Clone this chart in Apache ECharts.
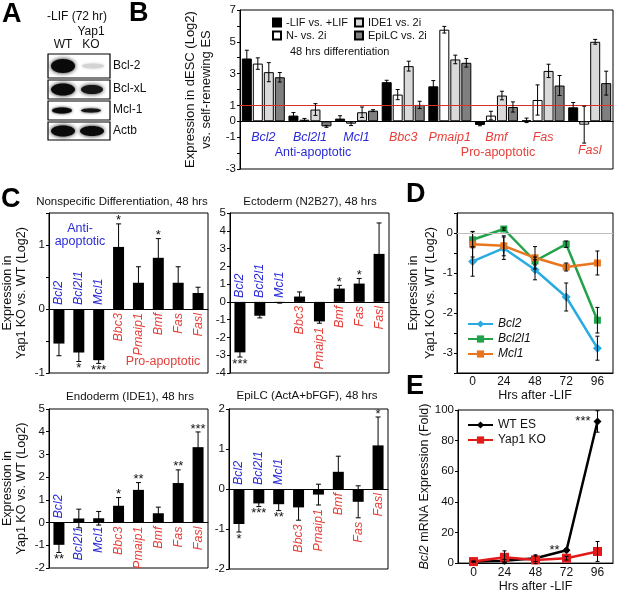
<!DOCTYPE html>
<html>
<head>
<meta charset="utf-8">
<script src="https://cdn.jsdelivr.net/npm/echarts@6/dist/echarts.min.js"></script>
<style>
  html, body { margin: 0; padding: 0; background: #fff; }
  #chart { width: 617px; height: 594px; }
</style>
</head>
<body>
<div id="chart"></div>
<script>
// genes, first three are anti-apoptotic
const genes = ['Bcl2', 'Bcl2l1', 'Mcl1', 'Bbc3', 'Pmaip1', 'Bmf', 'Fas', 'Fasl'];
const antiCount = 3;

// panel B: dESC vs self-renewing ES
const bNames = ['-LIF vs. +LIF', 'N- vs. 2i', 'IDE1 vs. 2i', 'EpiLC vs. 2i'];
const bLif = [3.95, 0.36, 0.17, 2.46, 2.2, -0.23, 0.06, 0.88];
const bLifErr = [0.52, 0.19, 0.18, 0.12, 0.36, 0.05, 0.14, 0.3];
const bN2 = [3.63, 0.1, -0.15, 1.68, 5.76, 0.36, 1.34, -0.21];
const bN2Err = [0.36, 0.08, 0.12, 0.32, 0.21, 0.27, 0.95, 1.16];
const bIde = [3.09, 0.74, 0.57, 3.47, 3.89, 1.62, 3.17, 5.0];
const bIdeErr = [0.6, 0.37, 0.33, 0.31, 0.27, 0.27, 0.42, 0.15];
const bEpi = [2.77, -0.32, 0.67, 1.03, 3.68, 0.9, 2.25, 2.4];
const bEpiErr = [0.3, 0.06, 0.06, 0.23, 0.27, 0.32, 0.63, 0.75];

// panel C: Yap1 KO vs WT
const cNon = [-0.54, -0.68, -0.8, 0.97, 0.41, 0.8, 0.41, 0.25];
const cNonErr = [0.19, 0.14, 0.05, 0.36, 0.25, 0.3, 0.25, 0.09];
const cNonSig = ['', '*', '***', '*', '', '*', '', ''];
const cEcto = [-2.84, -0.78, -0.05, 0.3, -1.1, 0.75, 1.03, 2.7];
const cEctoErr = [0.26, 0.12, 0.02, 0.26, 0.1, 0.18, 0.29, 1.74];
const cEctoSig = ['***', '', '', '', '', '*', '*', ''];
const cEndo = [-0.98, 0.18, 0.19, 0.74, 1.44, 0.41, 1.74, 3.32];
const cEndoErr = [0.34, 0.41, 0.3, 0.36, 0.32, 0.27, 0.58, 0.67];
const cEndoSig = ['**', '', '', '*', '**', '', '**', '***'];
const cEpi = [-0.875, -0.36, -0.38, -0.46, -0.14, 0.43, -0.32, 1.09];
const cEpiErr = [0.2, 0.08, 0.16, 0.32, 0.26, 0.39, 0.4, 0.71];
const cEpiSig = ['*', '***', '**', '', '', '', '', '*'];

// panel D: time course, Yap1 KO vs WT (Log2)
const hours = ['0', '24', '48', '72', '96'];
const dBcl2 = [-0.71, -0.38, -0.92, -1.6, -2.88];
const dBcl2Err = [0.37, 0.28, 0.25, 0.35, 0.3];
const dBcl2l1 = [-0.17, 0.1, -0.7, -0.28, -2.18];
const dBcl2l1Err = [0.2, 0.03, 0.1, 0.08, 0.32];
const dMcl1 = [-0.28, -0.32, -0.62, -0.85, -0.75];
const dMcl1Err = [0.32, 0.25, 0.28, 0.1, 0.3];

// panel E: Bcl2 mRNA fold
const eWt = [1, 1.5, 3.2, 8.4, 92.5];
const eWtErr = [0.3, 0.8, 2.2, 1, 7];
const eKo = [1, 3.8, 2.1, 3.2, 7.6];
const eKoErr = [0.3, 4.2, 2.5, 1.2, 6.5];
const eSig = ['', '', '', '**', '***'];

const FONT = "'Liberation Sans', Arial, sans-serif";
const BLUE = '#2b2bd6';
const RED = '#e5403a';

const chart = echarts.init(document.getElementById('chart'));

const grids = [
    { left: 240, top: 10, width: 373, height: 159 },  // B
    { left: 48, top: 213, width: 160, height: 160 },  // C nonspecific
    { left: 230, top: 213, width: 159, height: 160 }, // C ectoderm
    { left: 48, top: 409, width: 160, height: 159 },  // C endoderm
    { left: 229, top: 409, width: 159, height: 160 }, // C epiLC
    { left: 457, top: 213, width: 156, height: 160 }, // D
    { left: 458, top: 410, width: 155, height: 158 }  // E
].map(g => Object.assign({ show: true, borderColor: '#000', borderWidth: 1 }, g));

function valAxis(gi, min, max, interval, showFn, extra) {
    return Object.assign({
        type: 'value', gridIndex: gi, min: min, max: max, interval: interval,
        axisLine: { show: true, lineStyle: { color: '#000' } },
        axisTick: { show: true, length: 3, lineStyle: { color: '#000' } },
        axisLabel: {
            fontSize: 11.5, color: '#111', fontFamily: FONT, margin: 4,
            formatter: v => showFn(v) ? String(v) : ''
        },
        splitLine: { show: false }
    }, extra || {});
}

function geneAxis(gi) {
    return {
        type: 'category', gridIndex: gi, data: genes,
        axisLine: { onZero: true, lineStyle: { color: '#000' } },
        axisTick: { show: false }, axisLabel: { show: false }
    };
}

function timeAxis(gi, margin, nameGap) {
    return {
        type: 'category', gridIndex: gi, data: hours,
        axisLine: { onZero: false, lineStyle: { color: '#000' } },
        axisTick: { length: 4, lineStyle: { color: '#000' } },
        axisLabel: { fontSize: 12, color: '#111', fontFamily: FONT, margin: margin },
        name: 'Hrs after -LIF', nameLocation: 'middle', nameGap: nameGap,
        nameTextStyle: { fontSize: 12.5, color: '#111', fontFamily: FONT }
    };
}

const isInt = v => Math.abs(v - Math.round(v)) < 1e-6;
const yTitle = 'Expression in\nYap1 KO vs. WT (Log2)';

const xAxes = [
    geneAxis(0), geneAxis(1), geneAxis(2), geneAxis(3), geneAxis(4),
    timeAxis(5, 3, 16.5), timeAxis(6, 4, 13.5)
];
const yAxes = [
    valAxis(0, -3, 7, 1, v => [7, 5, 3, 1, 0, -1, -3].includes(v), {
        name: 'Expression in dESC (Log2)\nvs. self-renewing ES', nameLocation: 'middle', nameGap: 19,
        nameTextStyle: { fontSize: 13, lineHeight: 16, color: '#111', fontFamily: FONT }
    }),
    valAxis(1, -1, 1.5, 0.5, isInt, {
        name: yTitle, nameLocation: 'middle', nameGap: 20,
        nameTextStyle: { fontSize: 12.5, lineHeight: 14, color: '#111', fontFamily: FONT }
    }),
    valAxis(2, -4, 5, 1, () => true),
    valAxis(3, -2, 5, 1, () => true, {
        name: yTitle, nameLocation: 'middle', nameGap: 20,
        nameTextStyle: { fontSize: 12.5, lineHeight: 14, color: '#111', fontFamily: FONT }
    }),
    valAxis(4, -2, 2, 1, () => true),
    valAxis(5, -3.5, 0.5, 0.5, isInt, {
        name: yTitle, nameLocation: 'middle', nameGap: 14.5,
        nameTextStyle: { fontSize: 12.5, lineHeight: 17, color: '#111', fontFamily: FONT }
    }),
    valAxis(6, 0, 100, 20, () => true, {
        name: '{i|Bcl2} mRNA Expression (Fold)', nameLocation: 'middle', nameGap: 22.5,
        nameTextStyle: {
            fontSize: 12.5, color: '#111', fontFamily: FONT,
            rich: { i: { fontStyle: 'italic', fontSize: 12.5, color: '#111', fontFamily: FONT } }
        }
    })
];

// error bars drawn through the axes of the grid
function errorBars(gi, vals, errs, offset, cap, z) {
    return {
        type: 'custom', xAxisIndex: gi, yAxisIndex: gi, silent: true, z: z || 5,
        data: vals.map((v, i) => [i, v, errs[i]]),
        renderItem(params, api) {
            const i = api.value(0), v = api.value(1), e = api.value(2);
            const hi = api.coord([i, v + e]);
            const lo = api.coord([i, v - e]);
            const x = hi[0] + offset;
            const st = { stroke: '#000', lineWidth: 1 };
            return {
                type: 'group', children: [
                    { type: 'line', shape: { x1: x, y1: hi[1], x2: x, y2: lo[1] }, style: st },
                    { type: 'line', shape: { x1: x - cap, y1: hi[1], x2: x + cap, y2: hi[1] }, style: st },
                    { type: 'line', shape: { x1: x - cap, y1: lo[1], x2: x + cap, y2: lo[1] }, style: st }
                ]
            };
        }
    };
}

// rotated gene names inside the C panels
function geneLabels(gi, vals, errs) {
    return {
        type: 'custom', xAxisIndex: gi, yAxisIndex: gi, silent: true, z: 6,
        data: vals.map((v, i) => [i, v, errs[i]]),
        renderItem(params, api) {
            const i = api.value(0), v = api.value(1), e = api.value(2);
            const anti = i < antiCount;
            let anchor = 0, up = false;
            if (v < 0 && anti) { up = true; }
            else if (v < 0) { anchor = v - e; }
            const p = api.coord([i, anchor]);
            return {
                type: 'text', x: p[0], y: p[1] + (up ? -4 : 4), rotation: Math.PI / 2,
                style: {
                    text: genes[i], fill: anti ? BLUE : RED,
                    fontStyle: 'italic', fontSize: 12.5, fontFamily: FONT,
                    align: up ? 'left' : 'right', verticalAlign: 'middle'
                }
            };
        }
    };
}

function stars(gi, vals, errs, sig) {
    return {
        type: 'custom', xAxisIndex: gi, yAxisIndex: gi, silent: true, z: 6,
        data: vals.map((v, i) => [i, v, errs[i]]),
        renderItem(params, api) {
            const i = api.value(0), v = api.value(1), e = api.value(2);
            if (!sig[i]) return null;
            const p = api.coord([i, v >= 0 ? v + e : v - e]);
            return {
                type: 'text', x: p[0], y: p[1] + (v >= 0 ? -3 : 7),
                style: {
                    text: sig[i], fill: '#111', fontSize: 13, fontFamily: FONT,
                    align: 'center', verticalAlign: 'middle'
                }
            };
        }
    };
}

function cPanel(gi, vals, errs, sig) {
    return [
        {
            type: 'bar', xAxisIndex: gi, yAxisIndex: gi, data: vals, barWidth: 11,
            itemStyle: { color: '#000' }, z: 2, silent: true
        },
        errorBars(gi, vals, errs, 0, 2.5),
        geneLabels(gi, vals, errs),
        stars(gi, vals, errs, sig)
    ];
}

// panel B bars
const bVals = [bLif, bN2, bIde, bEpi];
const bErrs = [bLifErr, bN2Err, bIdeErr, bEpiErr];
const bColors = ['#000', '#fff', '#d9d9d9', '#7f7f7f'];
const bOffsets = [-16.5, -5.5, 5.5, 16.5];
const bMinEnd = genes.map((g, i) => Math.min(...bVals.map((s, k) => s[i] - bErrs[k][i])));
const bLabelY = bMinEnd.map(m => Math.min(-1, m - 0.45));

const series = [];
series.push({
    type: 'line', xAxisIndex: 0, yAxisIndex: 0, data: [], z: 1, silent: true,
    markLine: {
        silent: true, symbol: 'none', label: { show: false },
        lineStyle: { color: '#d9302b', width: 1, type: 'solid' },
        data: [{ yAxis: 1 }]
    }
});
bNames.forEach((name, k) => {
    series.push({
        type: 'bar', name: name, xAxisIndex: 0, yAxisIndex: 0, data: bVals[k],
        barWidth: 10, barGap: '10%', z: 2,
        itemStyle: { color: bColors[k], borderColor: '#000', borderWidth: 1 }
    });
});
bNames.forEach((name, k) => series.push(errorBars(0, bVals[k], bErrs[k], bOffsets[k], 2)));
series.push({
    type: 'custom', xAxisIndex: 0, yAxisIndex: 0, silent: true, z: 6,
    data: bLabelY.map((y, i) => [i, y]),
    renderItem(params, api) {
        const i = api.value(0);
        const p = api.coord([i, api.value(1)]);
        return {
            type: 'text', x: p[0], y: p[1],
            style: {
                text: genes[i], fill: i < antiCount ? BLUE : RED,
                fontStyle: 'italic', fontSize: 12.5, fontFamily: FONT,
                align: 'center', verticalAlign: 'middle'
            }
        };
    }
});

// panel C
series.push(...cPanel(1, cNon, cNonErr, cNonSig));
series.push(...cPanel(2, cEcto, cEctoErr, cEctoSig));
series.push(...cPanel(3, cEndo, cEndoErr, cEndoSig));
series.push(...cPanel(4, cEpi, cEpiErr, cEpiSig));

// panel D
series.push({
    type: 'line', xAxisIndex: 5, yAxisIndex: 5, data: [], z: 1, silent: true,
    markLine: {
        silent: true, symbol: 'none', label: { show: false },
        lineStyle: { color: '#bdbdbd', width: 1, type: 'solid' },
        data: [{ yAxis: 0 }]
    }
});
const dLines = [
    { name: 'Bcl2', vals: dBcl2, errs: dBcl2Err, color: '#29abe2', symbol: 'diamond', size: 9 },
    { name: 'Bcl2l1', vals: dBcl2l1, errs: dBcl2l1Err, color: '#22a24a', symbol: 'rect', size: 7 },
    { name: 'Mcl1', vals: dMcl1, errs: dMcl1Err, color: '#e8761e', symbol: 'rect', size: 7 }
];
dLines.forEach(d => {
    series.push({
        type: 'line', name: d.name, xAxisIndex: 5, yAxisIndex: 5, data: d.vals, z: 3,
        symbol: d.symbol, symbolSize: d.size, showAllSymbol: true,
        lineStyle: { color: d.color, width: 2.5 }, itemStyle: { color: d.color }
    });
});
dLines.forEach(d => series.push(errorBars(5, d.vals, d.errs, 0, 2, 4)));

// panel E
const starLabel = (v, i) => ({
    value: v,
    label: {
        show: !!eSig[i], formatter: eSig[i], position: 'left', distance: 3,
        fontSize: 13, color: '#111', fontFamily: FONT
    }
});
series.push({
    type: 'line', name: 'WT ES', xAxisIndex: 6, yAxisIndex: 6, data: eWt.map(starLabel), z: 3,
    symbol: 'diamond', symbolSize: 8,
    lineStyle: { color: '#000', width: 2.5 }, itemStyle: { color: '#000' }
});
series.push({
    type: 'line', name: 'Yap1 KO', xAxisIndex: 6, yAxisIndex: 6, data: eKo, z: 3,
    symbol: 'rect', symbolSize: 9,
    lineStyle: { color: '#e21a1a', width: 2.5 }, itemStyle: { color: '#e21a1a' }
});
series.push(errorBars(6, eWt, eWtErr, 0, 2, 4));
series.push(errorBars(6, eKo, eKoErr, 0, 2, 4));

// text helpers for panel letters, titles and the western blot in A
function txt(x, y, text, o) {
    return {
        type: 'text', x: x, y: y, silent: true, z: 10,
        style: Object.assign({
            text: text, fill: '#111', fontFamily: FONT, fontSize: 12,
            align: 'left', verticalAlign: 'middle'
        }, o || {})
    };
}
const letter = (x, y, t) => txt(x, y, t, { fontSize: 27, fontWeight: 'bold', fill: '#000' });
const band = (cx, cy, rx, ry, color, blur) => ({
    type: 'ellipse', silent: true, z: 11, shape: { cx: cx, cy: cy, rx: rx, ry: ry },
    style: { fill: color, shadowBlur: blur, shadowColor: color }
});
const blotBox = (y, h) => ({
    type: 'rect', silent: true, z: 10, shape: { x: 48, y: y, width: 62, height: h },
    style: { fill: '#fff', stroke: '#000', lineWidth: 1.2 }
});

const graphic = [
    letter(2, 15, 'A'), letter(129, 14, 'B'), letter(1, 200, 'C'),
    letter(406, 195, 'D'), letter(406, 387, 'E'),

    txt(47, 17, '-LIF (72 hr)', { fontSize: 12 }),
    txt(91, 32, 'Yap1', { align: 'center' }),
    txt(63, 45, 'WT', { align: 'center' }),
    txt(91, 45, 'KO', { align: 'center' }),
    blotBox(54, 24), blotBox(80, 19), blotBox(101, 19), blotBox(122, 18),
    band(63, 66, 12, 7, '#0a0a0a', 4), band(93, 66, 11, 2.5, '#d4d4d4', 3),
    band(63, 89.5, 12, 6, '#0a0a0a', 4), band(92, 89.5, 11, 4.5, '#151515', 4),
    band(62, 110.5, 10, 3, '#0a0a0a', 3), band(91, 110.5, 10, 2, '#151515', 3),
    band(63, 131, 12, 5.5, '#0a0a0a', 4), band(92, 131, 12, 5, '#0a0a0a', 4),
    txt(113, 66, 'Bcl-2'), txt(113, 89, 'Bcl-xL'), txt(113, 110, 'Mcl-1'), txt(113, 131, 'Actb'),

    txt(290, 52, '48 hrs differentiation', { fontSize: 11 }),
    txt(313, 153, 'Anti-apoptotic', { fontSize: 12.5, fill: BLUE, align: 'center' }),
    txt(498, 153, 'Pro-apoptotic', { fontSize: 12.5, fill: RED, align: 'center' }),

    txt(122, 202, 'Nonspecific Differentiation, 48 hrs', { fontSize: 11.5, align: 'center' }),
    txt(310, 202, 'Ectoderm (N2B27), 48 hrs', { fontSize: 11.5, align: 'center' }),
    txt(130, 397, 'Endoderm (IDE1), 48 hrs', { fontSize: 11.5, align: 'center' }),
    txt(307, 396, 'EpiLC (ActA+bFGF), 48 hrs', { fontSize: 11.5, align: 'center' }),
    txt(80, 229, 'Anti-', { fontSize: 12.5, fill: BLUE, align: 'center' }),
    txt(80, 242, 'apoptotic', { fontSize: 12.5, fill: BLUE, align: 'center' }),
    txt(163, 362, 'Pro-apoptotic', { fontSize: 12.5, fill: RED, align: 'center' })
];

const legendBase = {
    orient: 'vertical', padding: 0, itemGap: 2, selectedMode: false,
    textStyle: { fontSize: 11, color: '#111', fontFamily: FONT }
};

const option = {
    animation: false,
    textStyle: { fontFamily: FONT },
    grid: grids,
    xAxis: xAxes,
    yAxis: yAxes,
    legend: [
        Object.assign({}, legendBase, {
            left: 272, top: 17, data: ['-LIF vs. +LIF', 'N- vs. 2i'],
            icon: 'rect', itemWidth: 8, itemHeight: 8
        }),
        Object.assign({}, legendBase, {
            left: 354, top: 17, data: ['IDE1 vs. 2i', 'EpiLC vs. 2i'],
            icon: 'rect', itemWidth: 8, itemHeight: 8
        }),
        Object.assign({}, legendBase, {
            left: 467, top: 318, data: ['Bcl2', 'Bcl2l1', 'Mcl1'], itemWidth: 25, itemHeight: 9, itemGap: 3,
            textStyle: { fontSize: 12, fontStyle: 'italic', color: '#111', fontFamily: FONT }
        }),
        Object.assign({}, legendBase, {
            left: 467, top: 419, data: ['WT ES', 'Yap1 KO'], itemWidth: 25, itemHeight: 9, itemGap: 3,
            textStyle: { fontSize: 12, color: '#111', fontFamily: FONT }
        })
    ],
    graphic: graphic,
    series: series
};

chart.setOption(option);
</script>
</body>
</html>
